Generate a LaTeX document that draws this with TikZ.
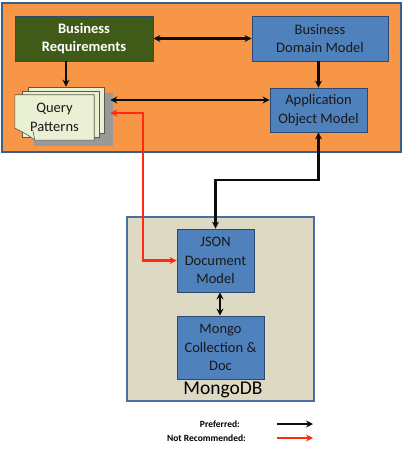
\documentclass[tikz,border=0pt]{standalone}
\usepackage{fontspec}
\setmainfont{Carlito}
\usetikzlibrary{arrows.meta,calc}
\definecolor{panelorange}{HTML}{F79646}
\definecolor{paneledge}{HTML}{3B5F8C}
\definecolor{dbtan}{HTML}{DDD9C3}
\definecolor{dbedge}{HTML}{4A6FA5}
\definecolor{boxblue}{HTML}{4F81BD}
\definecolor{boxedge}{HTML}{2C4A70}
\definecolor{reqgreen}{HTML}{3F5B17}
\definecolor{pagefill}{HTML}{E9F0D4}
\definecolor{pageedge}{HTML}{5A5A4A}
\definecolor{badred}{HTML}{FF2A10}
\tikzset{
  tip/.tip={Stealth[length=7pt,width=7pt]},
  box/.style={draw=boxedge, fill=boxblue, line width=0.8pt, inner sep=0pt, align=center,
    font=\fontsize{14.5}{18.5}\selectfont, text=black!90},
  pagebox/.style={draw=pageedge, fill=pagefill, line width=0.6pt, inner sep=0pt, minimum width=76pt, minimum height=46pt},
  link/.style={tip-tip, line width=2.2pt, black!95},
  badlink/.style={link, badred},
  legendtext/.style={font=\fontsize{9.5}{11}\selectfont\bfseries, anchor=east, inner sep=0pt}
}
\begin{document}
\begin{tikzpicture}[x=1pt,y=-1pt]
\useasboundingbox (0,0) rectangle (404,449);
% panels
\draw[fill=panelorange, draw=paneledge, line width=1.8pt] (2,3) rectangle (401,152);
\draw[fill=dbtan, draw=dbedge, line width=1.8pt] (127,217) rectangle (314,401);
\node[font=\fontsize{19.5}{21}\selectfont, inner sep=0pt] (db) at (223,390) {MongoDB};
% boxes
\node[box, fill=reqgreen, text=white, font=\fontsize{14.5}{17.5}\selectfont\bfseries, minimum width=138pt, minimum height=45pt] (BR) at (84,38.5) {Business\\Requirements};
\node[box, minimum width=136pt, minimum height=45pt] (BDM) at (320,38.5) {Business\\Domain Model};
\node[box, minimum width=97pt, minimum height=44pt] (AOM) at (318.5,110) {Application\\Object Model};
\node[box, minimum width=77pt, minimum height=63pt] (JSON) at (215.5,260.5) {JSON\\Document\\Model};
\node[box, minimum width=87pt, minimum height=63pt] (Mongo) at (220.5,347.5) {Mongo\\Collection \&\\Doc};
% query pattern pages
\fill[black!40] (34,93) rectangle (113,146);
\node[pagebox] (QPback) at (66,110) {};
\node[pagebox, minimum width=77pt] (QPmid) at (60.5,114) {};
\node[inner sep=0pt, minimum width=79pt, minimum height=45pt] (QP) at (54.5,117.5) {};
\draw[draw=pageedge, fill=pagefill, line width=0.6pt] (QP.north west) -- (QP.north east) -- (QP.south east)
  -- ($(QP.south west)+(20,0)$) .. controls ($(QP.south west)+(12,-6)$) .. ($(QP.south west)+(0,-12)$) -- cycle;
\draw[draw=pageedge, line width=0.6pt] ($(QP.south west)+(20,0)$) -- ($(QP.south west)+(18,-10)$);
\node[align=center, font=\fontsize{14.5}{18.5}\selectfont, text=black!90] at (QP) {Query\\Patterns};
% connectors
\coordinate (redturn) at (143,113);
\coordinate (blkturn) at (318.5,180);
\draw[link] (BR.east) -- (BDM.west);
\draw[link, -tip] (BR.south -| QPback.north) -- (QPback.north);
\draw[link, -tip] (AOM.north |- BDM.south) -- (AOM.north);
\draw[link] ($(QPback.east)+(6,-10)$) -- ($(AOM.west)+(0,-10)$);
\draw[badlink] ($(QPback.east)+(6,3)$) -- (redturn) -- (redturn |- JSON.west) -- (JSON.west);
\draw[link] (AOM.south) -- (blkturn) -- (blkturn -| JSON.north) -- (JSON.north);
\draw[link] (Mongo.north -| 220,0) -- (JSON.south -| 220,0);
% legend
\node[legendtext] (pref) at (240,424) {Preferred:};
\node[legendtext] (notrec) at (246,438) {Not Recommended:};
\coordinate (prefA) at (277,424);
\coordinate (notrecA) at (277,438);
\draw[link, -tip] (prefA) -- ++(36,0);
\draw[badlink, -tip] (notrecA) -- ++(36,0);
\end{tikzpicture}
\end{document}
